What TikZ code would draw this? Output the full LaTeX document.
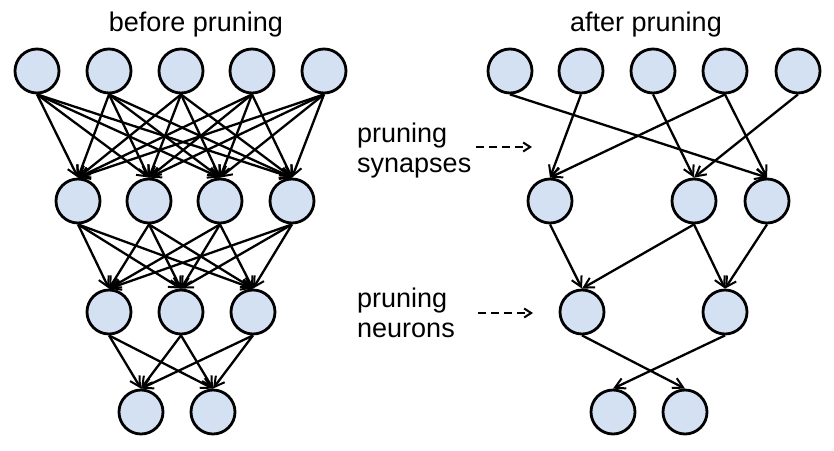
\documentclass[tikz,border=0pt]{standalone}
\usepackage{fontspec}
\setmainfont{Liberation Sans}
\usetikzlibrary{arrows.meta}
\definecolor{nfill}{HTML}{D4E1F2}
\begin{document}
\begin{tikzpicture}[x=1pt,y=-1pt,
  neuron/.style={circle,draw=black,fill=nfill,line width=2.8pt,minimum size=44pt,inner sep=0pt},
  syn/.style={line width=2.3pt,-{Straight Barb[length=10pt,width=11pt,line width=2pt]}},
  hint/.style={line width=2pt,dash pattern=on 8pt off 5pt,-{Straight Barb[length=7pt,width=9pt]}},
  lbl/.style={font=\fontsize{27}{30}\selectfont,inner sep=0pt}]
\useasboundingbox (0,0) rectangle (834,450);
% left network
\foreach \x [count=\i] in {37,109,181,252,324} \node[neuron] (a\i) at (\x,71) {};
\foreach \x [count=\i] in {78,149,220,292} \node[neuron] (b\i) at (\x,201) {};
\foreach \x [count=\i] in {109,181,253} \node[neuron] (c\i) at (\x,312) {};
\foreach \x [count=\i] in {141,213} \node[neuron] (d\i) at (\x,412) {};
\foreach \i in {1,...,5} \foreach \j in {1,...,4} \draw[syn] (a\i.south) -- (b\j.north);
\foreach \i in {1,...,4} \foreach \j in {1,...,3} \draw[syn] (b\i.south) -- (c\j.north);
\foreach \i in {1,...,3} \foreach \j in {1,...,2} \draw[syn] (c\i.south) -- (d\j.north);
% right network
\foreach \x [count=\i] in {510,581,653,725,798} \node[neuron] (p\i) at (\x,71) {};
\node[neuron] (q1) at (550,201) {};
\node[neuron] (q2) at (694,201) {};
\node[neuron] (q3) at (767,201) {};
\node[neuron] (r1) at (582,312) {};
\node[neuron] (r2) at (725,312) {};
\node[neuron] (s1) at (613,412) {};
\node[neuron] (s2) at (685,412) {};
\draw[syn] (p1.south) -- (q3.north);
\draw[syn] (p2.south) -- (q1.north);
\draw[syn] (p3.south) -- (q2.north);
\draw[syn] (p4.south) -- (q1.north);
\draw[syn] (p4.south) -- (q3.north);
\draw[syn] (p5.south) -- (q2.north);
\draw[syn] (q1.south) -- (r1.north);
\draw[syn] (q2.south) -- (r1.north);
\draw[syn] (q2.south) -- (r2.north);
\draw[syn] (q3.south) -- (r2.north);
\draw[syn] (r1.south) -- (s2.north);
\draw[syn] (r2.south) -- (s1.north);
% titles
\node[lbl] (t1) at (196,25) {before pruning};
\node[lbl] (t2) at (646,25) {after pruning};
% middle labels
\node[lbl,align=left,anchor=west] (ls) at (357,151) {pruning\\synapses};
\node[lbl,align=left,anchor=west] (ln) at (357,313) {pruning\\neurons};
\coordinate (hs1) at (476,147);
\coordinate (hs2) at (532,147);
\coordinate (hn1) at (478,313);
\coordinate (hn2) at (533,313);
\draw[hint] (hs1) -- (hs2);
\draw[hint] (hn1) -- (hn2);
\end{tikzpicture}
\end{document}
